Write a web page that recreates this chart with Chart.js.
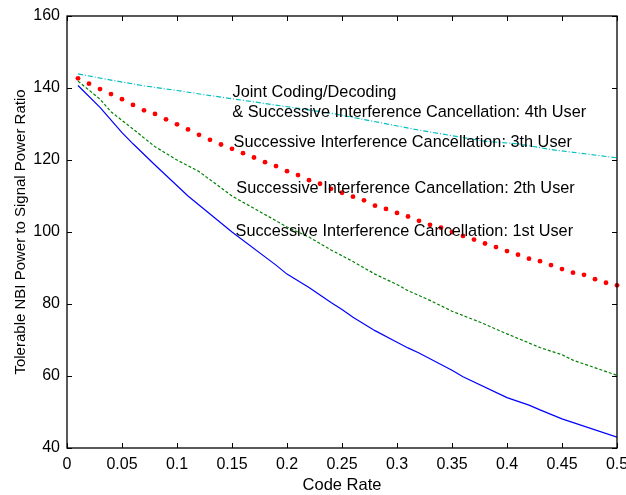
<!DOCTYPE html>
<html><head><meta charset="utf-8">
<script src="https://cdn.jsdelivr.net/npm/chart.js@4/dist/chart.umd.min.js"></script>
<style>html,body{margin:0;padding:0;background:#fff;overflow:hidden}</style>
</head><body>
<canvas id="c" width="626" height="495"></canvas>
<script>
// ---- data ----
const xTickValues = [0,0.05,0.1,0.15,0.2,0.25,0.3,0.35,0.4,0.45,0.5];
const xTickLabels = ["0","0.05","0.1","0.15","0.2","0.25","0.3","0.35","0.4","0.45","0.5"];
const yTickValues = [40,60,80,100,120,140,160];
const yTickLabels = ["40","60","80","100","120","140","160"];

// 1st user (blue solid)
const user1X = [0.01,0.03,0.05,0.06,0.08,0.11,0.15,0.19,0.20,0.22,0.24,0.25,0.26,0.28,0.30,0.31,0.32,0.35,0.36,0.40,0.42,0.43,0.45,0.50];
const user1Y = [140.7,134.6,127.6,124.5,118.6,110.0,100.0,90.8,88.3,84.6,80.4,78.5,76.3,72.6,69.4,67.8,66.4,61.6,59.8,54.0,51.9,50.6,48.1,43.0];

// 2nd user (green dashed)
const user2X = [0.01,0.03,0.04,0.06,0.08,0.10,0.12,0.15,0.20,0.22,0.24,0.26,0.28,0.30,0.31,0.33,0.35,0.375,0.40,0.43,0.45,0.46,0.50];
const user2Y = [141.9,136.9,133.4,128.6,123.7,120.0,116.8,110.0,101.4,98.6,95.0,91.8,88.3,85.4,83.7,81.0,78.0,75.0,71.7,67.9,65.9,64.4,60.2];

// 3rd user (red dots)
const user3X = [0.01,0.02,0.03,0.04,0.05,0.06,0.07,0.08,0.09,0.10,0.11,0.12,0.13,0.14,0.15,0.16,0.17,0.18,0.19,0.20,0.21,0.22,0.23,0.24,0.25,0.26,0.27,0.28,0.29,0.30,0.31,0.32,0.33,0.34,0.35,0.36,0.37,0.38,0.39,0.40,0.41,0.42,0.43,0.44,0.45,0.46,0.47,0.48,0.49,0.50];
const user3Y = [142.7,141.2,139.7,138.3,136.9,135.3,133.8,132.8,131.3,129.9,128.5,127.0,125.6,124.3,123.1,121.9,120.7,119.4,118.3,116.9,115.8,114.4,113.4,112.0,110.9,109.8,108.8,107.3,106.4,105.3,104.3,103.1,102.0,101.2,100.0,98.9,97.9,96.8,95.8,94.7,93.7,92.6,91.9,90.8,89.7,88.7,88.1,86.9,85.9,85.2];

// 4th user (cyan dash-dot)
const user4X = [0.01,0.04,0.07,0.10,0.13,0.18,0.24,0.32,0.38,0.41,0.44,0.50];
const user4Y = [143.9,142.2,140.6,139.3,137.9,135.7,133.0,128.3,125.2,124.5,122.9,120.6];

const annotationTexts = [
  "Joint Coding/Decoding",
  "& Successive Interference Cancellation: 4th User",
  "Successive Interference Cancellation: 3th User",
  "Successive Interference Cancellation: 2th User",
  "Successive Interference Cancellation: 1st User"
];
// ---------------------------------------

const FONT = '"Liberation Sans", Arial, Helvetica, sans-serif';
const pts = (xs, ys) => xs.map((x, i) => ({x, y: ys[i]}));

// anchor positions of the in-plot labels (data coordinates, left/baseline)
const annoPos = [[0.1505,137.4],[0.1503,132.0],[0.1514,123.7],[0.1539,110.9],[0.1532,99.0]];

const boxPlugin = {
  id: 'box',
  afterDatasetsDraw(chart) {
    const {ctx, chartArea: a, scales: {x, y}} = chart;
    ctx.save();
    ctx.fillStyle = '#000';
    ctx.font = '16.3px ' + FONT;
    ctx.textAlign = 'left';
    ctx.textBaseline = 'alphabetic';
    annotationTexts.forEach((t, i) => {
      ctx.fillText(t, x.getPixelForValue(annoPos[i][0]), y.getPixelForValue(annoPos[i][1]));
    });
    ctx.strokeStyle = '#000';
    ctx.lineWidth = 1.3;
    ctx.strokeRect(a.left, a.top, a.right - a.left, a.bottom - a.top);
    const L = 5;
    ctx.lineWidth = 1;
    ctx.beginPath();
    xTickValues.forEach(v => {
      const px = Math.round(x.getPixelForValue(v)) + 0.5;
      ctx.moveTo(px, a.bottom); ctx.lineTo(px, a.bottom - L);
      ctx.moveTo(px, a.top); ctx.lineTo(px, a.top + L);
    });
    yTickValues.forEach(v => {
      const py = Math.round(y.getPixelForValue(v)) + 0.5;
      ctx.moveTo(a.left, py); ctx.lineTo(a.left + L, py);
      ctx.moveTo(a.right, py); ctx.lineTo(a.right - L, py);
    });
    ctx.stroke();
    ctx.restore();
  }
};

new Chart(document.getElementById('c'), {
  type: 'line',
  data: {
    datasets: [
      {label: '1st', data: pts(user1X, user1Y), borderColor: '#0000ff', borderWidth: 1.2, pointRadius: 0, fill: false, tension: 0},
      {label: '2nd', data: pts(user2X, user2Y), borderColor: '#008000', borderWidth: 1.2, borderDash: [3, 2], pointRadius: 0, fill: false, tension: 0},
      {label: '3rd', data: pts(user3X, user3Y), showLine: false, pointRadius: 2.4, pointBorderWidth: 0, pointBackgroundColor: '#ff0000', borderColor: '#ff0000', clip: false},
      {label: '4th', data: pts(user4X, user4Y), borderColor: '#00bfbf', borderWidth: 1.2, borderDash: [5, 2, 1, 2], pointRadius: 0, fill: false, tension: 0}
    ]
  },
  options: {
    responsive: false,
    animation: false,
    devicePixelRatio: 1,
    layout: {padding: {top: 16, right: 9, left: 0, bottom: 0}},
    plugins: {legend: {display: false}, tooltip: {enabled: false}},
    scales: {
      x: {
        type: 'linear', min: 0, max: 0.5,
        afterBuildTicks: s => { s.ticks = xTickValues.map(v => ({value: v})); },
        afterFit: s => { s.height = 47; s.paddingLeft = 0; s.paddingRight = 0; },
        grid: {display: false, drawTicks: false}, border: {display: false},
        ticks: {callback: (v, i) => xTickLabels[i], color: '#000', font: {family: FONT, size: 16}, padding: 7, maxRotation: 0, autoSkip: false},
        title: {display: true, text: 'Code Rate', color: '#000', font: {family: FONT, size: 16.5}, padding: {top: 0, bottom: 0}}
      },
      y: {
        type: 'linear', min: 40, max: 160,
        afterBuildTicks: s => { s.ticks = yTickValues.map(v => ({value: v})); },
        afterFit: s => { s.width = 67; s.paddingTop = 0; s.paddingBottom = 0; },
        grid: {display: false, drawTicks: false}, border: {display: false},
        ticks: {callback: (v, i) => yTickLabels[i], color: '#000', font: {family: FONT, size: 16}, padding: 7, autoSkip: false},
        title: {display: true, text: 'Tolerable NBI Power to Signal Power Ratio', color: '#000', font: {family: FONT, size: 15}, padding: {top: 12, bottom: 0}}
      }
    }
  },
  plugins: [boxPlugin]
});
</script>
</body></html>
